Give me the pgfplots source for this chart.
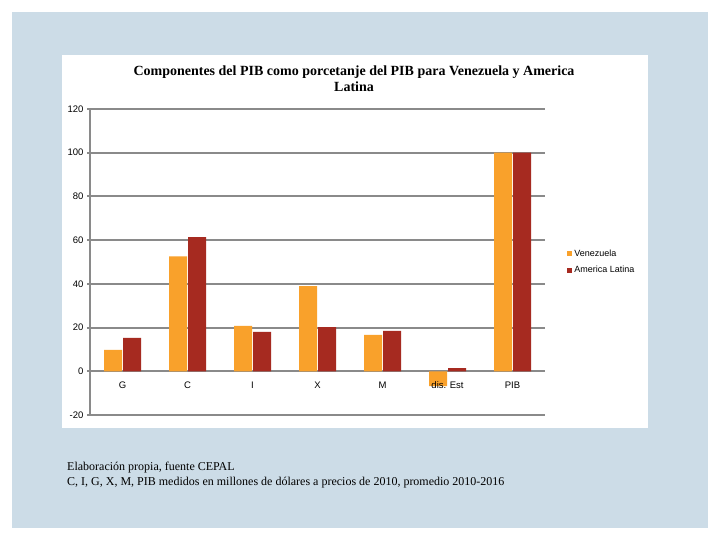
\documentclass[border=0pt]{standalone}
\usepackage{fontspec}
\setmainfont{Liberation Sans}
\newfontfamily\serifont{Liberation Serif}
\usepackage{pgfplots}
\pgfplotsset{compat=1.18}

\definecolor{bgblue}{HTML}{CCDCE7}
\definecolor{vzla}{HTML}{F9A12B}
\definecolor{alat}{HTML}{A62A20}
\definecolor{gridgray}{HTML}{8A8A8A}

\begin{document}
\begin{tikzpicture}[x=1pt,y=1pt]
  % page, blue frame and white chart panel
  \fill[white] (0,0) rectangle (720,540);
  \fill[bgblue] (12,12) rectangle (708,528);
  \fill[white] (62,112) rectangle (648,485);

  \node[font=\serifont\bfseries\fontsize{14}{16}\selectfont, align=center]
    at (354,461) {Componentes del PIB como porcetanje del PIB para Venezuela y America\\Latina};

  \node[font=\serifont\fontsize{12}{15}\selectfont, align=left, anchor=north west, inner sep=0pt]
    at (67,78) {Elaboración propia, fuente CEPAL\\C, I, G, X, M, PIB medidos en millones de dólares a precios de 2010, promedio 2010-2016};

  \begin{axis}[
      at={(90pt,125pt)}, anchor=south west,
      scale only axis,
      width=455pt, height=306pt,
      ybar=1pt, bar width=18pt,
      xmin=-0.5, xmax=6.5,
      ymin=-20, ymax=120,
      ytick={-20,0,20,40,60,80,100,120},
      xtick={0,...,6},
      xticklabels={G, C, I, X, M, {}, PIB},
      extra x ticks={-0.5,0.5,...,6.5},
      extra x tick labels={},
      extra x tick style={major tick length=4pt, tick align=outside, grid=none},
      axis x line=middle, axis y line=left,
      axis line style={-, gridgray, line width=2pt},
      x tick style={draw=none},
      y tick style={gridgray, line width=2pt},
      tick align=outside, major tick length=3pt,
      ymajorgrids,
      major grid style={gridgray, line width=2pt},
      ticklabel style={font=\fontsize{9.5}{10}\selectfont},
      xticklabel style={yshift=-4pt},
      /pgf/number format/assume math mode=true,
      legend style={at={(1.042,0.5)}, anchor=west, draw=none, fill=none,
        font=\fontsize{9}{10}\selectfont, row sep=4pt},
      legend cell align=left,
      legend image code/.code={\fill[#1] (0pt,-2.5pt) rectangle (5pt,2.5pt);},
      clip=false,
    ]
    \addplot[fill=vzla, draw=none] coordinates {
      (0,9.8) (1,52.6) (2,20.8) (3,39.0) (4,16.7) (5,-6.8) (6,100)
    };
    \addlegendentry{Venezuela}
    \addplot[fill=alat, draw=none] coordinates {
      (0,15.3) (1,61.4) (2,18.0) (3,20.2) (4,18.5) (5,1.5) (6,100)
    };
    \addlegendentry{America Latina}
    % this label lies over the negative bar in the reference
    \node[font=\fontsize{9.5}{10}\selectfont, anchor=north, yshift=-7pt]
      at (axis cs:5,0) {dis. Est};
  \end{axis}
\end{tikzpicture}
\end{document}
